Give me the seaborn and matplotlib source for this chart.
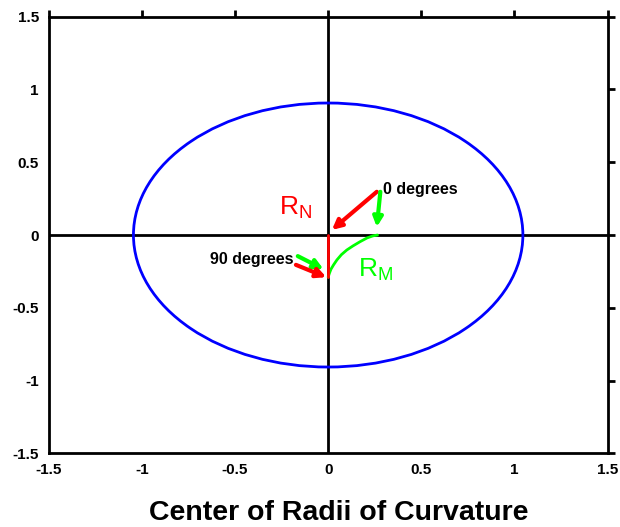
import matplotlib
matplotlib.use("Agg")
import matplotlib.pyplot as plt
from matplotlib.patches import Ellipse
import seaborn as sns
import pandas as pd

# ---- data ----
ticks = [-1.5, -1, -0.5, 0, 0.5, 1, 1.5]
tick_labels = ["-1.5", "-1", "-0.5", "0", "0.5", "1", "1.5"]
ellipse_semi_major = 1.045
ellipse_semi_minor = 0.907
# center of meridian curvature (R_M locus)
rm_x = [0.265, 0.24, 0.209, 0.171, 0.133, 0.1, 0.071, 0.047, 0.029, 0.015, 0.006, 0.0]
rm_y = [0.0, -0.006, -0.02, -0.046, -0.075, -0.103, -0.135, -0.171, -0.205, -0.235, -0.265, -0.29]
# center of prime vertical curvature (R_N locus)
rn_x = [0.0, 0.0]
rn_y = [0.0, -0.29]
title = "Center of Radii of Curvature"

sns.set_style("white")
plt.rcParams["font.family"] = ["Liberation Sans", "DejaVu Sans"]
plt.rcParams["text.color"] = "black"
plt.rcParams["xtick.color"] = "black"
plt.rcParams["ytick.color"] = "black"
plt.rcParams["xtick.labelcolor"] = "black"
plt.rcParams["ytick.labelcolor"] = "black"

fig = plt.figure(figsize=(6.2, 5.27), dpi=100)
ax = fig.add_axes([0.0785, 0.1398, 0.9016, 0.8285])

ax.axhline(0, color="black", lw=2, zorder=1)
ax.axvline(0, color="black", lw=2, zorder=1)

ax.add_patch(Ellipse((0, 0), 2 * ellipse_semi_major, 2 * ellipse_semi_minor,
                     fill=False, edgecolor="#0000ff", lw=2, zorder=2))

df_m = pd.DataFrame({"x": rm_x, "y": rm_y})
sns.lineplot(data=df_m, x="x", y="y", sort=False, estimator=None, color="#00ff00", lw=2, ax=ax)
df_n = pd.DataFrame({"x": rn_x, "y": rn_y})
sns.lineplot(data=df_n, x="x", y="y", sort=False, estimator=None, color="#ff0000", lw=2, ax=ax)
for ln in ax.lines[2:]:
    ln.set_zorder(5)

ax.set_xlim(-1.5, 1.5)
ax.set_ylim(-1.5, 1.5)
ax.set_xticks(ticks)
ax.set_yticks(ticks)
ax.set_xticklabels(tick_labels, fontweight="bold", fontsize=11)
ax.set_yticklabels(tick_labels, fontweight="bold", fontsize=11)
ax.tick_params(direction="out", length=5, width=2, top=True, right=True,
               labeltop=False, labelright=False, pad=2, colors="black")
for s in ax.spines.values():
    s.set_visible(True)
    s.set_linewidth(2)
    s.set_color("black")
ax.set_xlabel("")
ax.set_ylabel("")

def arrow(x0, y0, x1, y1, c):
    ax.annotate("", xy=(x1, y1), xytext=(x0, y0),
                arrowprops=dict(arrowstyle="-|>", color=c, lw=3, mutation_scale=14,
                                shrinkA=0, shrinkB=0), zorder=6)

arrow(0.261, 0.297, 0.02, 0.035, "#ff0000")
arrow(0.28, 0.297, 0.261, 0.055, "#00ff00")
arrow(-0.163, -0.145, -0.025, -0.235, "#00ff00")
arrow(-0.173, -0.205, -0.01, -0.29, "#ff0000")

ax.text(0.292, 0.31, "0 degrees", fontsize=11.5, fontweight="bold", ha="left", va="center", color="black")
ax.text(-0.188, -0.17, "90 degrees", fontsize=11.5, fontweight="bold", ha="right", va="center", color="black")
ax.text(-0.173, 0.19, r"R$_\mathregular{N}$", fontsize=19, color="#ff0000", ha="center", va="center")
ax.text(0.255, -0.24, r"R$_\mathregular{M}$", fontsize=19, color="#00ff00", ha="center", va="center")

fig.text(0.546, 0.027, title, fontsize=20.5, fontweight="bold", ha="center", va="center", color="black")

fig.savefig("out.png", dpi=100)
